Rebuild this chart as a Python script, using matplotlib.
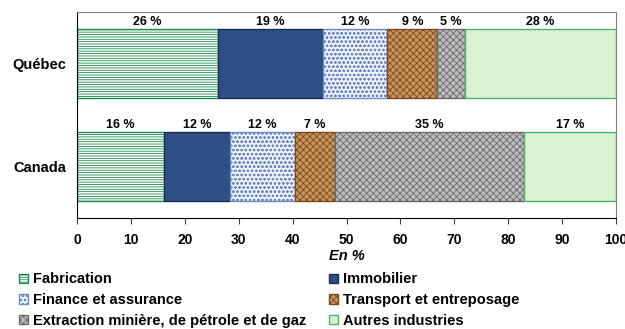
import numpy as np
import matplotlib
matplotlib.use("Agg")
from matplotlib import pyplot as plt

plt.rcParams['font.family'] = ['Liberation Sans', 'DejaVu Sans']
plt.rcParams['hatch.linewidth'] = 0.6

# Data (shares in %)
regions = ['Canada', 'Québec']
industries = ['Fabrication', 'Immobilier', 'Finance et assurance',
              'Transport et entreposage',
              'Extraction minière, de pétrole et de gaz', 'Autres industries']
quebec = [26.2, 19.4, 12.0, 9.2, 5.2, 28.0]
canada = [16.2, 12.2, 12.1, 7.4, 35.1, 17.0]

faces = ['white', '#2E4F86', '#EEF2FA', '#C8955E', '#BDBDBD', '#D9F2D0']
edges = ['#1E8A52', '#1C2E50', '#6F8CC0', '#7A4A1E', '#6A6A6A', '#4DAF72']
hatches = ['-------', None, 'oooo', 'xxxxx', 'xxxxx', None]

values = np.array([canada, quebec])  # rows follow regions

fig = plt.figure(figsize=(6.25, 3.29), dpi=100)
ax = fig.add_axes([0.1232, 0.3374, 0.8624, 0.6252])

ypos = np.arange(len(regions))
left = np.zeros(len(regions))
handles = []
for i, name in enumerate(industries):
    bars = ax.barh(ypos, values[:, i], left=left, height=0.67,
                   color=faces[i], edgecolor=edges[i], hatch=hatches[i],
                   linewidth=1.0, label=name)
    handles.append(bars)
    for j in range(len(regions)):
        ax.annotate('%d %%' % round(values[j, i]),
                    (left[j] + values[j, i] / 2, ypos[j] + 0.335),
                    xytext=(0, 1), textcoords='offset points',
                    ha='center', va='bottom', fontsize=9, fontweight='bold')
    left += values[:, i]

ax.set_xlim(0, 100)
ax.set_ylim(-0.5, 1.5)
ax.set_xticks(np.arange(0, 101, 10))
ax.set_yticks(ypos)
ax.set_yticklabels(regions, fontsize=10.5, fontweight='bold')
ax.tick_params(axis='y', length=0, pad=8)
ax.tick_params(axis='x', direction='out', length=4, width=0.8,
               labelsize=10, pad=7, color='#404040')
for lab in ax.get_xticklabels():
    lab.set_fontweight('bold')
ax.set_xlabel('En %', fontsize=10.5, fontweight='bold', style='italic', labelpad=1)

ax.spines['left'].set_color('black')
ax.spines['bottom'].set_color('black')
ax.spines['top'].set_color('#808080')
ax.spines['right'].set_color('#808080')

# legend filled row by row: reorder for column-wise filling
order = [0, 2, 4, 1, 3, 5]
leg = fig.legend([handles[k] for k in order], [industries[k] for k in order],
                 loc='upper left', bbox_to_anchor=(0.030, 0.172), ncol=2,
                 frameon=False, fontsize=10.5, handlelength=0.62,
                 handleheight=0.62, handletextpad=0.34, labelspacing=0.45,
                 columnspacing=1.55, borderpad=0, borderaxespad=0)
for t in leg.get_texts():
    t.set_fontweight('bold')

fig.savefig('out.png', dpi=100)
